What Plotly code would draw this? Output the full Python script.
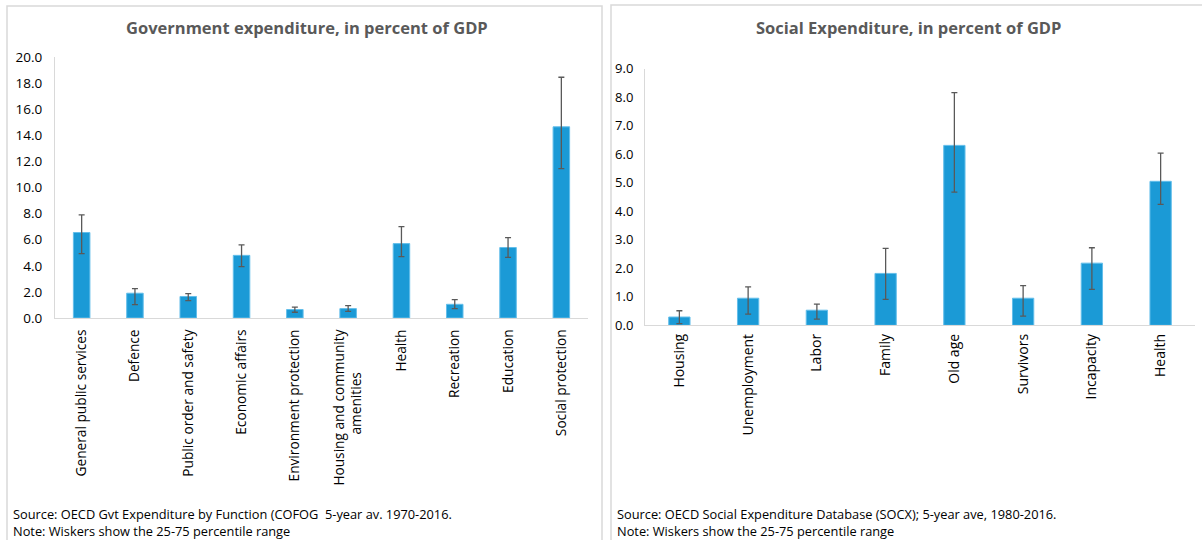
import plotly.graph_objects as go

W, H = 1202, 540

# ---- Data: Government expenditure (percent of GDP) ----
gov_categories = ["General public services", "Defence", "Public order and safety",
                  "Economic affairs", "Environment protection",
                  "Housing and community<br>amenities" + "\u00a0" * 12, "Health", "Recreation",
                  "Education", "Social protection"]
gov_values = [6.55, 1.90, 1.65, 4.80, 0.65, 0.72, 5.70, 1.05, 5.40, 14.65]
gov_p75 = [7.90, 2.25, 1.87, 5.60, 0.84, 0.95, 7.00, 1.41, 6.16, 18.45]
gov_p25 = [4.93, 1.02, 1.33, 3.94, 0.44, 0.51, 4.70, 0.72, 4.65, 11.45]

# ---- Data: Social expenditure (percent of GDP) ----
soc_categories = ["Housing", "Unemployment", "Labor", "Family", "Old age",
                  "Survivors", "Incapacity", "Health"]
soc_values = [0.29, 0.95, 0.53, 1.82, 6.31, 0.95, 2.18, 5.05]
soc_p75 = [0.51, 1.35, 0.74, 2.70, 8.16, 1.39, 2.72, 6.04]
soc_p25 = [0.06, 0.39, 0.22, 0.91, 4.67, 0.32, 1.26, 4.24]

BAR = "#1B9AD6"
EDGE = "#63BEEA"
ERR = "#595959"
GRID = "#D9D9D9"
TITLE_C = "#595959"
FONT = "Open Sans"


def px(x):
    return x / W


def py(y):
    return 1 - y / H


fig = go.Figure()

fig.add_trace(go.Bar(
    x=gov_categories, y=gov_values, xaxis="x", yaxis="y",
    marker=dict(color=BAR, line=dict(color=EDGE, width=1)),
    error_y=dict(type="data", symmetric=False,
                 array=[h - v for h, v in zip(gov_p75, gov_values)],
                 arrayminus=[v - l for v, l in zip(gov_values, gov_p25)],
                 color=ERR, thickness=1.3, width=3),
    showlegend=False, hoverinfo="skip",
))

fig.add_trace(go.Bar(
    x=soc_categories, y=soc_values, xaxis="x2", yaxis="y2",
    marker=dict(color=BAR, line=dict(color=EDGE, width=1)),
    error_y=dict(type="data", symmetric=False,
                 array=[h - v for h, v in zip(soc_p75, soc_values)],
                 arrayminus=[v - l for v, l in zip(soc_values, soc_p25)],
                 color=ERR, thickness=1.3, width=3),
    showlegend=False, hoverinfo="skip",
))

axis_common = dict(showgrid=False, zeroline=False, showline=True, automargin=False,
                   linecolor=GRID, linewidth=1, ticks="")

fig.update_layout(
    template="none",
    width=W, height=H,
    margin=dict(l=0, r=0, t=0, b=0, pad=0, autoexpand=False),
    paper_bgcolor="white", plot_bgcolor="white",
    bargap=0.69,
    font=dict(family=FONT, color="#000000"),
    xaxis=dict(domain=[px(55), px(588)], anchor="y", tickangle=-90,
               tickfont=dict(size=13.7, family=FONT, color="#000000"),
               ticklabelstandoff=5,
               **axis_common),
    yaxis=dict(domain=[py(318), py(57)], anchor="x", range=[0, 20],
               tickmode="array", tickvals=list(range(0, 21, 2)),
               ticktext=[f"{v:.1f}" for v in range(0, 21, 2)],
               tickfont=dict(size=13.5, family=FONT, color="#000000"),
               ticklabelstandoff=9,
               **axis_common),
    xaxis2=dict(domain=[px(645), px(1195)], anchor="y2", tickangle=-90,
                tickfont=dict(size=14, family=FONT, color="#000000"),
                ticklabelstandoff=2,
                **axis_common),
    yaxis2=dict(domain=[py(325.3), py(68.7)], anchor="x2", range=[0, 9],
                tickmode="array", tickvals=list(range(0, 10)),
                ticktext=[f"{v:.1f}" for v in range(0, 10)],
                tickfont=dict(size=13, family=FONT, color="#000000"),
                ticklabelstandoff=8,
                **axis_common),
    shapes=[
        dict(type="rect", xref="paper", yref="paper",
             x0=px(7), x1=px(602), y0=-0.05, y1=py(6),
             line=dict(color=GRID, width=1.5), fillcolor="rgba(0,0,0,0)", layer="below"),
        dict(type="rect", xref="paper", yref="paper",
             x0=px(611), x1=1.05, y0=-0.05, y1=py(5),
             line=dict(color=GRID, width=1.5), fillcolor="rgba(0,0,0,0)", layer="below"),
    ],
    annotations=[
        dict(text="<b>Government expenditure, in percent of GDP</b>", xref="paper", yref="paper",
             x=px(307), y=py(28), xanchor="center", yanchor="middle", showarrow=False,
             font=dict(size=16.5, family=FONT, color=TITLE_C)),
        dict(text="<b>Social Expenditure, in percent of GDP</b>", xref="paper", yref="paper",
             x=px(908), y=py(28), xanchor="center", yanchor="middle", showarrow=False,
             font=dict(size=16.5, family=FONT, color=TITLE_C)),
        dict(text="Source: OECD Gvt Expenditure by Function (COFOG  5-year av. 1970-2016.",
             xref="paper", yref="paper", x=px(11), y=py(514), xanchor="left", yanchor="middle",
             showarrow=False, font=dict(size=12.8, family=FONT, color="#000000")),
        dict(text="Note: Wiskers show the 25-75 percentile range",
             xref="paper", yref="paper", x=px(11), y=py(531), xanchor="left", yanchor="middle",
             showarrow=False, font=dict(size=12.8, family=FONT, color="#000000")),
        dict(text="Source: OECD Social Expenditure Database (SOCX); 5-year ave, 1980-2016.",
             xref="paper", yref="paper", x=px(615), y=py(514), xanchor="left", yanchor="middle",
             showarrow=False, font=dict(size=12.8, family=FONT, color="#000000")),
        dict(text="Note: Wiskers show the 25-75 percentile range",
             xref="paper", yref="paper", x=px(615), y=py(531), xanchor="left", yanchor="middle",
             showarrow=False, font=dict(size=12.8, family=FONT, color="#000000")),
    ],
)

fig.write_html("out.html",
               config={"displayModeBar": False},
               post_script="document.body.style.margin='0';document.body.style.padding='0';"
                           "document.documentElement.style.overflow='hidden';")
